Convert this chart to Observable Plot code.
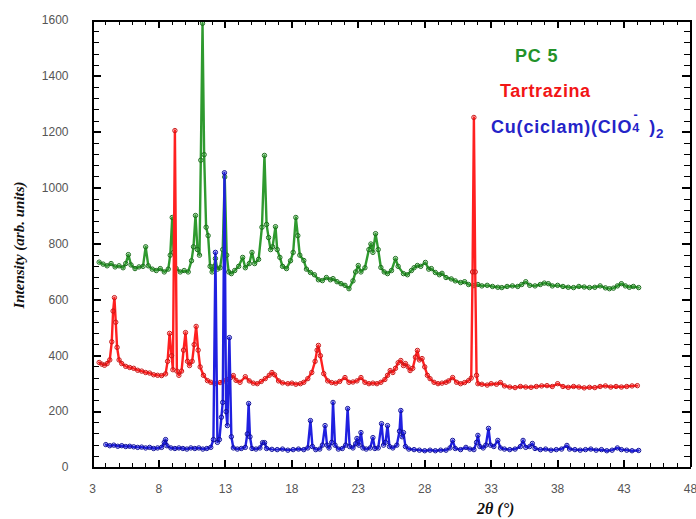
<!DOCTYPE html>
<html>
<head>
<meta charset="utf-8">
<script src="https://cdn.jsdelivr.net/npm/d3@7"></script>
<script src="https://cdn.jsdelivr.net/npm/@observablehq/plot@0.6"></script>
<style>
  html, body { margin: 0; padding: 0; background: #fff; }
  #wrap { position: relative; width: 696px; height: 519px; overflow: hidden; background: #fff; }
  #wrap svg { position: absolute; left: 0; top: 0; font-family: "Liberation Sans", Arial, sans-serif; }
  .lab { position: absolute; white-space: nowrap; font-family: "Liberation Sans", Arial, sans-serif; font-weight: bold; }
  .ttl { position: absolute; white-space: nowrap; font-family: "Liberation Serif", "Times New Roman", serif; font-weight: bold; font-style: italic; color: #111; }
</style>
</head>
<body>
<div id="wrap"></div>
<script>
// ---- PC 5 (green) ----
const pcX = [3.5,3.8,4.1,4.4,4.7,5.0,5.3,5.5,5.7,5.9,6.2,6.5,6.8,7.0,7.2,7.5,7.8,8.1,8.4,8.7,8.85,9.0,9.1,9.3,9.6,9.9,10.2,10.45,10.6,10.75,10.9,11.05,11.15,11.28,11.4,11.55,11.7,11.85,12.0,12.15,12.25,12.4,12.6,12.8,12.95,13.1,13.25,13.45,13.7,14.0,14.3,14.5,14.8,15.0,15.2,15.5,15.75,15.94,16.1,16.25,16.4,16.55,16.77,16.9,17.1,17.3,17.6,17.9,18.1,18.3,18.45,18.6,18.9,19.1,19.4,19.7,20.0,20.3,20.6,20.9,21.1,21.4,21.7,22.0,22.3,22.6,22.8,23.0,23.2,23.5,23.8,23.95,24.1,24.3,24.5,24.7,24.95,25.2,25.5,25.8,26.0,26.4,26.7,27.0,27.2,27.45,27.7,28.05,28.3,28.5,28.8,29.1,29.3,29.6,30.0,30.3,30.7,31.0,31.3,31.7,32.0,32.3,32.7,33.1,33.5,33.8,34.2,34.6,35.0,35.3,35.6,35.9,36.3,36.7,37.0,37.3,37.6,38.0,38.4,38.8,39.2,39.6,40.0,40.4,40.8,41.2,41.6,41.9,42.2,42.5,42.8,43.1,43.4,43.7,44.1];
const pcY = [735,728,722,730,718,722,715,730,762,725,712,718,720,790,722,710,705,712,700,710,760,895,770,712,700,705,700,740,790,902,780,760,1100,1590,1120,860,830,720,700,720,748,710,715,780,1040,760,700,694,705,720,752,715,730,770,730,745,860,1117,870,823,780,790,862,780,752,720,712,740,770,895,830,760,741,710,698,690,672,669,680,672,676,665,658,652,640,668,700,723,700,715,780,800,770,837,780,716,700,694,705,748,720,694,690,705,715,723,720,734,710,712,698,690,695,680,675,668,662,665,655,651,655,650,652,648,645,644,648,650,648,655,665,652,650,655,660,658,650,652,648,645,644,648,646,644,645,650,643,640,642,650,658,650,645,648,644];

// ---- Tartrazina (red) ----
const tzX = [3.5,3.7,3.9,4.1,4.3,4.45,4.55,4.65,4.75,4.85,5.0,5.2,5.5,5.8,6.1,6.4,6.7,7.0,7.3,7.6,7.9,8.2,8.5,8.65,8.8,8.95,9.05,9.2,9.35,9.5,9.7,9.85,10.0,10.15,10.3,10.5,10.65,10.8,10.95,11.1,11.35,11.65,11.9,12.2,12.6,12.9,13.2,13.4,13.6,13.8,14.1,14.5,14.8,15.1,15.4,15.7,16.0,16.3,16.5,16.7,17.0,17.3,17.7,18.0,18.3,18.65,18.9,19.2,19.5,19.75,19.9,20.0,20.15,20.4,20.7,21.0,21.3,21.6,22.0,22.3,22.6,22.9,23.2,23.5,23.8,24.1,24.4,24.7,25.0,25.2,25.4,25.6,25.8,26.0,26.2,26.4,26.55,26.75,26.9,27.1,27.3,27.45,27.6,27.8,28.0,28.2,28.4,28.7,29.0,29.3,29.6,29.8,30.1,30.4,30.7,31.0,31.3,31.5,31.6,31.7,31.8,31.9,32.0,32.3,32.7,33.0,33.4,33.7,34.0,34.4,34.8,35.2,35.6,36.0,36.4,36.8,37.2,37.6,38.0,38.4,38.8,39.2,39.6,40.0,40.4,40.8,41.2,41.6,42.0,42.4,42.8,43.2,43.6,44.0];
const tzY = [376,370,366,372,385,450,560,608,520,430,385,372,362,358,355,348,345,340,338,332,330,329,335,380,480,400,350,1206,345,330,345,420,483,380,365,380,440,505,420,360,330,311,305,300,304,310,315,322,329,312,305,325,310,302,300,308,318,330,340,332,310,303,300,302,298,300,305,318,340,380,420,437,400,336,310,304,302,308,322,305,306,310,322,305,300,302,300,305,315,330,347,340,355,375,383,365,372,360,347,355,395,419,385,390,360,330,318,305,300,302,305,310,322,305,300,304,311,320,700,1253,700,330,300,298,295,300,298,304,292,288,286,290,288,287,290,292,293,290,300,290,287,290,288,285,287,286,290,292,288,290,288,290,292,293];

// ---- Cu(ciclam)(ClO4-)2 (blue) ----
const cuX = [4.0,4.3,4.6,4.9,5.2,5.5,5.8,6.1,6.4,6.7,7.0,7.3,7.6,7.9,8.2,8.4,8.5,8.6,8.9,9.2,9.5,9.8,10.1,10.4,10.7,11.0,11.3,11.6,11.9,12.1,12.25,12.4,12.55,12.7,12.8,12.93,13.05,13.15,13.3,13.45,13.6,13.9,14.2,14.5,14.65,14.75,14.85,15.0,15.3,15.6,15.8,15.95,16.1,16.5,16.9,17.3,17.7,18.1,18.5,18.9,19.2,19.4,19.55,19.8,20.1,20.3,20.5,20.65,20.8,21.0,21.1,21.25,21.5,21.8,22.05,22.2,22.35,22.6,22.8,22.9,23.05,23.2,23.35,23.6,23.9,24.1,24.25,24.5,24.75,24.9,25.05,25.2,25.35,25.6,25.9,26.1,26.2,26.3,26.4,26.55,26.8,27.2,27.6,28.0,28.4,28.8,29.2,29.6,29.9,30.1,30.3,30.7,31.1,31.4,31.7,31.9,32.0,32.15,32.4,32.6,32.8,32.95,33.2,33.5,33.7,34.0,34.4,34.8,35.2,35.4,35.6,35.9,36.1,36.3,36.7,37.1,37.5,37.9,38.3,38.7,38.9,39.3,39.7,40.1,40.5,40.9,41.3,41.7,42.1,42.5,42.8,43.2,43.6,44.1];
const cuY = [82,78,80,76,78,75,76,74,72,73,70,72,68,70,72,90,100,78,70,68,70,68,66,70,68,70,66,68,72,100,770,90,100,180,233,1055,200,150,465,110,70,66,68,72,120,229,110,68,66,70,89,89,68,65,64,66,62,64,66,64,70,168,75,64,66,80,150,80,70,90,233,80,66,68,80,211,75,70,85,104,80,125,70,66,70,107,68,70,157,80,90,150,75,70,80,130,204,110,125,75,66,64,62,60,62,60,62,62,70,97,68,64,72,66,64,90,115,75,70,80,140,80,75,97,70,66,64,66,75,97,72,75,86,68,64,66,62,64,66,79,66,64,62,64,66,62,64,60,62,70,64,62,60,61];

// ---- axis ticks ----
const xMajor = [3,8,13,18,23,28,33,38,43,48];
const xMinor = d3.range(3, 49, 1);
const yMajor = [0,200,400,600,800,1000,1200,1400,1600];
const yMinor = d3.range(0, 1601, 40);

const series = [
  {x: pcX, y: pcY, line: "#2f9a2f", dot: "#1c6e1c"},
  {x: tzX, y: tzY, line: "#ff2020", dot: "#c81818"},
  {x: cuX, y: cuY, line: "#2020e0", dot: "#10109a"}
];

const W = 696, H = 519, mL = 92, mR = 6, mT = 20, mB = 52;

const marks = [];
for (const s of series) {
  const data = s.x.map((v, i) => ({x: v, y: s.y[i]}));
  marks.push(Plot.line(data, {x: "x", y: "y", stroke: s.line, strokeWidth: 2.4}));
  marks.push(Plot.dot(data, {x: "x", y: "y", r: 2.2, stroke: s.dot, strokeWidth: 1, fill: "none"}));
}
// tick labels
marks.push(Plot.axisX({ticks: xMajor, tickSize: 0, tickPadding: 17, label: null, fontSize: 12, fill: "#555", tickFormat: d3.format("d")}));
marks.push(Plot.axisY({ticks: yMajor, tickSize: 0, tickPadding: 24, label: null, fontSize: 12, fill: "#555", tickFormat: d3.format("d")}));
// inward tick marks: axis ticks shifted inside the frame, no labels
const blank = () => "";
const crisp = {shapeRendering: "crispEdges"};
marks.push(Plot.axisX({anchor: "bottom", ticks: xMinor, tickSize: 4, dy: -4, tickFormat: blank, label: null, stroke: "#000", ...crisp}));
marks.push(Plot.axisX({anchor: "top", ticks: xMinor, tickSize: 4, dy: 4, tickFormat: blank, label: null, stroke: "#000", ...crisp}));
marks.push(Plot.axisX({anchor: "bottom", ticks: xMajor, tickSize: 7, dy: -7, tickFormat: blank, label: null, stroke: "#000", strokeWidth: 2, ...crisp}));
marks.push(Plot.axisX({anchor: "top", ticks: xMajor, tickSize: 7, dy: 7, tickFormat: blank, label: null, stroke: "#000", strokeWidth: 2, ...crisp}));
marks.push(Plot.axisY({anchor: "left", ticks: yMinor, tickSize: 7, dx: 7, tickFormat: blank, label: null, stroke: "#000", ...crisp}));
marks.push(Plot.axisY({anchor: "right", ticks: yMinor, tickSize: 7, dx: -7, tickFormat: blank, label: null, stroke: "#000", ...crisp}));
marks.push(Plot.axisY({anchor: "left", ticks: yMajor, tickSize: 9, dx: 9, tickFormat: blank, label: null, stroke: "#000", strokeWidth: 2, ...crisp}));
marks.push(Plot.axisY({anchor: "right", ticks: yMajor, tickSize: 9, dx: -9, tickFormat: blank, label: null, stroke: "#000", strokeWidth: 2, ...crisp}));
// frame drawn last as four rules at the scale extremes
marks.push(Plot.ruleX([3, 48], {x: d => d, stroke: "#000", strokeWidth: 2, ...crisp}));
marks.push(Plot.ruleY([0, 1600], {y: d => d, stroke: "#000", strokeWidth: 2, ...crisp}));

const chart = Plot.plot({
  width: W, height: H,
  marginLeft: mL, marginRight: mR, marginTop: mT, marginBottom: mB,
  x: {domain: [3, 48]},
  y: {domain: [0, 1600]},
  marks
});
const wrap = document.getElementById("wrap");
wrap.appendChild(chart);

function addDiv(cls, html, css) {
  const d = document.createElement("div");
  d.className = cls; d.innerHTML = html;
  Object.assign(d.style, css);
  wrap.appendChild(d);
  return d;
}
addDiv("lab", "PC 5", {left: "515px", top: "46px", fontSize: "18px", color: "#23922a", letterSpacing: "0.8px"});
addDiv("lab", "Tartrazina", {left: "500px", top: "81px", fontSize: "18px", color: "#f21616", letterSpacing: "0.6px"});
addDiv("lab", "Cu(ciclam)(ClO<span style='position:relative;display:inline-block;width:0.62em'><span style='position:absolute;left:0.1em;top:-0.75em;font-size:0.7em'>-</span><span style='position:absolute;left:0;top:0.35em;font-size:0.7em'>4</span>&nbsp;</span>&nbsp;)<sub style='font-size:0.75em;vertical-align:-0.35em'>2</sub>", {left: "491px", top: "117px", fontSize: "18px", color: "#2424c8", letterSpacing: "0.8px"});
addDiv("ttl", "2θ (°)", {left: "477px", top: "500px", fontSize: "16px"});
const yl = addDiv("ttl", "Intensity (arb. units)", {left: "19px", top: "245px", fontSize: "15px"});
yl.style.transform = "translate(-50%,-50%) rotate(-90deg)";
</script>
</body>
</html>
